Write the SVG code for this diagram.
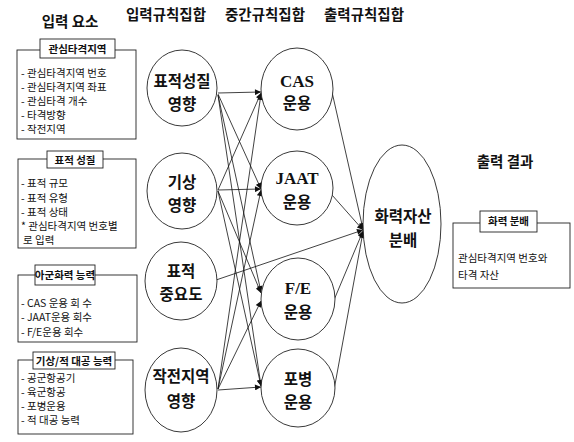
<svg xmlns="http://www.w3.org/2000/svg" width="574" height="442" viewBox="0 0 574 442">
<style>
.kr{font-family:"Noto Sans CJK KR","Noto Sans",sans-serif;fill:#111}
.hd{font-size:14.5px;font-weight:bold}
.cl{font-size:15.5px;font-weight:bold;text-anchor:middle}
.en{font-family:"Liberation Serif","Noto Sans CJK KR",serif;font-size:17px;font-weight:bold;text-anchor:middle;fill:#111}
.it{font-size:10.5px}
.tt{font-size:10.5px;font-weight:bold;text-anchor:middle}
.box{fill:none;stroke:#222;stroke-width:0.9}
.tb{fill:#fff;stroke:#222;stroke-width:0.9}
.nd{fill:#fff;stroke:#222;stroke-width:0.9}
.ln{stroke:#111;stroke-width:0.8;fill:none;marker-end:url(#ah)}
</style>
<defs>
<marker id="ah" viewBox="0 0 10 10" refX="10" refY="5" markerWidth="7" markerHeight="6" markerUnits="userSpaceOnUse" orient="auto">
<path d="M0,0 L10,5 L0,10 z" fill="#111"/>
</marker>
</defs>
<rect width="574" height="442" fill="#fff"/>

<g id="headers" class="kr">
<text x="70" y="27" class="hd" text-anchor="middle" font-size="15.5">입력 요소</text>
<text x="166" y="20" class="hd" text-anchor="middle">입력규칙집합</text>
<text x="265" y="20" class="hd" text-anchor="middle">중간규칙집합</text>
<text x="364" y="20" class="hd" text-anchor="middle">출력규칙집합</text>
<text x="505" y="167" class="hd" text-anchor="middle" font-size="15.5">출력 결과</text>
</g>

<g id="box-target-area" class="kr">
<rect x="17" y="50" width="119" height="89" class="box"/>
<rect x="40" y="39" width="75" height="19" class="tb"/>
<text x="77.5" y="52.5" class="tt">관심타격지역</text>
<text x="21" y="77" class="it">- 관심타격지역 번호</text>
<text x="21" y="91" class="it">- 관심타격지역 좌표</text>
<text x="21" y="105" class="it">- 관심타격 개수</text>
<text x="21" y="119" class="it">- 타격방향</text>
<text x="21" y="133" class="it">- 작전지역</text>
</g>

<g id="box-target-property" class="kr">
<rect x="18" y="159" width="118" height="89" class="box"/>
<rect x="47" y="151" width="56" height="17" class="tb"/>
<text x="75" y="163.5" class="tt">표적 성질</text>
<text x="21" y="187" class="it">- 표적 규모</text>
<text x="21" y="202" class="it">- 표적 유형</text>
<text x="21" y="216" class="it">- 표적 상태</text>
<text x="21" y="230" class="it">* 관심타격지역 번호별</text>
<text x="23" y="244" class="it">로  입력</text>
</g>

<g id="box-friendly-fire" class="kr">
<rect x="18" y="275" width="119" height="67" class="box"/>
<rect x="35" y="265" width="60" height="20" class="tb"/>
<text x="65" y="279" class="tt">아군화력 능력</text>
<text x="21" y="307" class="it">- CAS 운용 회 수</text>
<text x="21" y="321" class="it">- JAAT운용 회수</text>
<text x="21" y="336" class="it">- F/E운용 회수</text>
</g>

<g id="box-weather-aa" class="kr">
<rect x="18" y="360" width="115" height="74" class="box"/>
<rect x="33" y="352" width="82" height="17" class="tb"/>
<text x="74" y="364.5" class="tt">기상/적 대공 능력</text>
<text x="21" y="382" class="it">- 공군항공기</text>
<text x="21" y="396" class="it">- 육군항공</text>
<text x="21" y="410" class="it">- 포병운용</text>
<text x="21" y="424" class="it">- 적 대공 능력</text>
</g>

<g id="box-output" class="kr">
<rect x="453" y="223" width="117" height="65" class="box"/>
<rect x="480" y="211" width="57" height="21" class="tb"/>
<text x="508.5" y="225" class="tt" font-weight="normal">화력 분배</text>
<text x="458" y="262" class="it">관심타격지역 번호와</text>
<text x="458" y="279" class="it">타격 자산</text>
</g>

<g id="connectors">
<line x1="218" y1="93" x2="261" y2="92" class="ln"/>
<line x1="218" y1="94" x2="261" y2="189" class="ln"/>
<line x1="218" y1="95" x2="261" y2="292" class="ln"/>
<line x1="218" y1="95" x2="261" y2="386" class="ln"/>
<line x1="218" y1="190" x2="261" y2="93" class="ln"/>
<line x1="218" y1="190" x2="261" y2="189" class="ln"/>
<line x1="218" y1="191" x2="261" y2="293" class="ln"/>
<line x1="218" y1="191" x2="261" y2="386" class="ln"/>
<line x1="218" y1="389" x2="261" y2="94" class="ln"/>
<line x1="218" y1="389" x2="261" y2="190" class="ln"/>
<line x1="218" y1="389" x2="261" y2="301" class="ln"/>
<line x1="218" y1="390" x2="261" y2="387" class="ln"/>
<line x1="216" y1="280" x2="363" y2="230" class="ln"/>
<line x1="332" y1="92" x2="363" y2="229" class="ln"/>
<line x1="332" y1="195" x2="363" y2="230" class="ln"/>
<line x1="334" y1="300" x2="363" y2="231" class="ln"/>
<line x1="334" y1="390" x2="363" y2="232" class="ln"/>
</g>

<g id="in-target-property">
<ellipse cx="182" cy="88" rx="35" ry="38" class="nd"/>
<text x="182" y="87" class="kr cl">표적성질</text>
<text x="182" y="110" class="kr cl">영향</text>
</g>
<g id="in-weather">
<ellipse cx="182" cy="191" rx="35" ry="38" class="nd"/>
<text x="182" y="188" class="kr cl">기상</text>
<text x="182" y="211" class="kr cl">영향</text>
</g>
<g id="in-importance">
<ellipse cx="181" cy="281" rx="36" ry="39" class="nd"/>
<text x="181" y="277" class="kr cl">표적</text>
<text x="181" y="300" class="kr cl">중요도</text>
</g>
<g id="in-operation-area">
<ellipse cx="181" cy="390" rx="36" ry="42" class="nd"/>
<text x="181" y="382" class="kr cl">작전지역</text>
<text x="181" y="407" class="kr cl">영향</text>
</g>

<g id="mid-cas">
<ellipse cx="297" cy="89" rx="36" ry="41" class="nd"/>
<text x="297" y="87" class="en">CAS</text>
<text x="297" y="109" class="kr cl">운용</text>
</g>
<g id="mid-jaat">
<ellipse cx="297" cy="188" rx="36" ry="37" class="nd"/>
<text x="297" y="184" class="en">JAAT</text>
<text x="297" y="208" class="kr cl">운용</text>
</g>
<g id="mid-fe">
<ellipse cx="298" cy="299" rx="37" ry="41" class="nd"/>
<text x="298" y="294" class="en">F/E</text>
<text x="298" y="318" class="kr cl">운용</text>
</g>
<g id="mid-artillery">
<ellipse cx="298" cy="388" rx="37" ry="39" class="nd"/>
<text x="298" y="385" class="kr cl">포병</text>
<text x="298" y="408" class="kr cl">운용</text>
</g>

<g id="out-allocation">
<ellipse cx="402" cy="224" rx="39" ry="79" class="nd"/>
<text x="403" y="222" class="kr cl" font-size="16.5">화력자산</text>
<text x="403" y="246" class="kr cl" font-size="16.5">분배</text>
</g>
</svg>
